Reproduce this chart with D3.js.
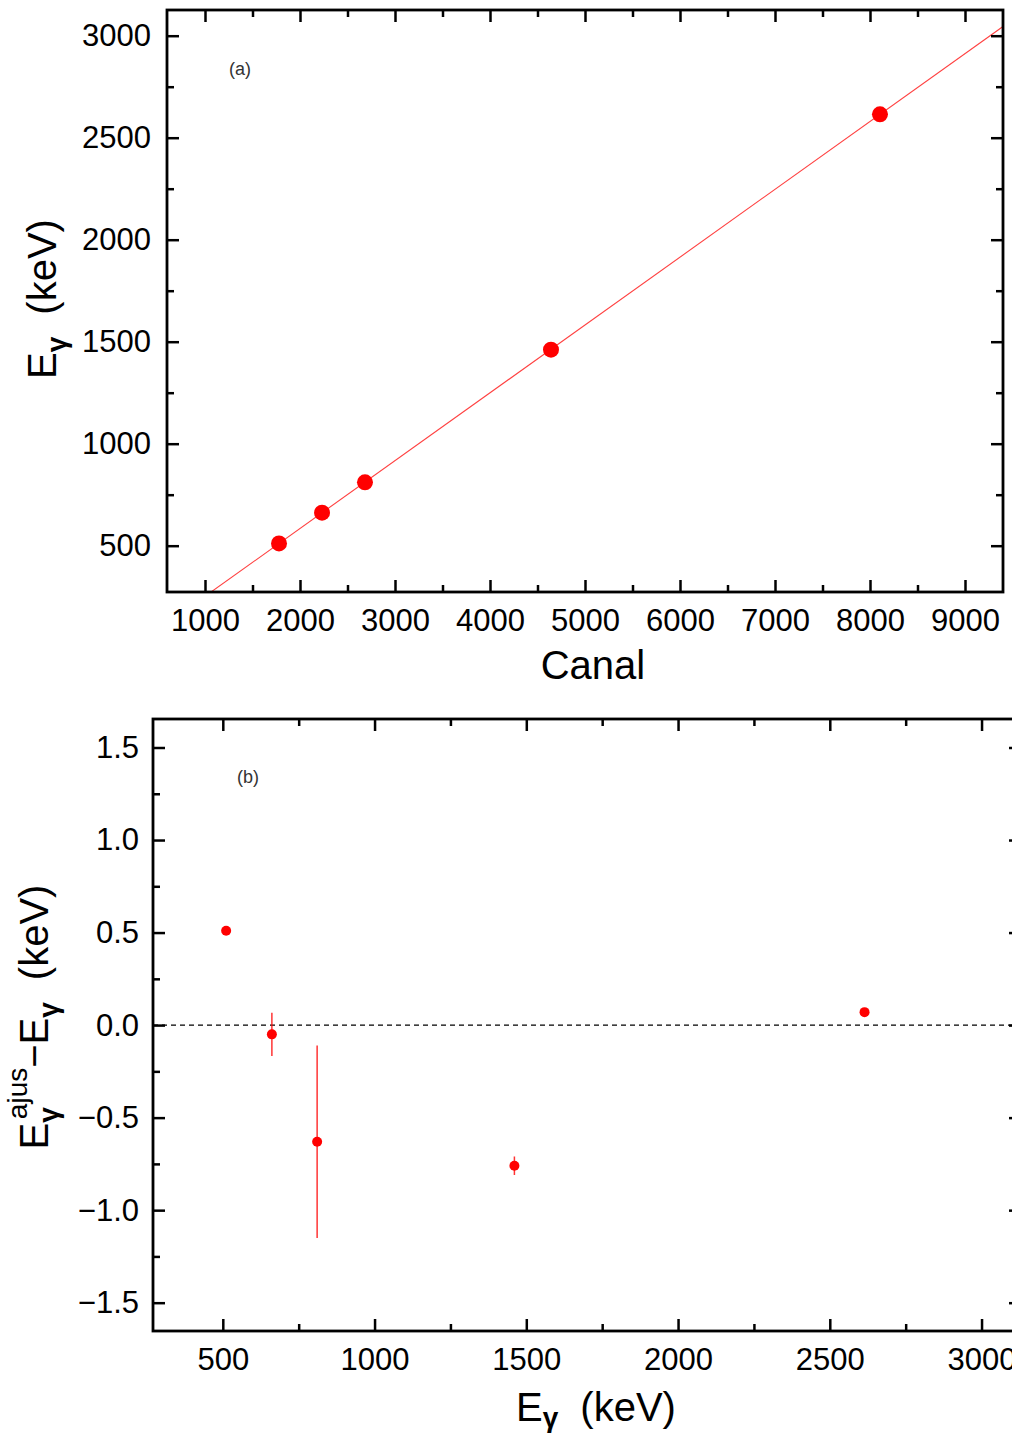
<!DOCTYPE html>
<html>
<head>
<meta charset="utf-8">
<script src="https://cdn.jsdelivr.net/npm/d3@7"></script>
<style>
  body { margin: 0; background: #fff; }
  text { font-family: "Liberation Sans", Arial, sans-serif; }
</style>
</head>
<body>
<div id="chart"></div>
<script>
// calibration points (canal vs energy) and residuals of the fit
const canal = [1779, 2232, 2684, 4642, 8105];
const energy = [511.0, 661.7, 810.8, 1460.8, 2614.5];
const residual = [0.51, -0.05, -0.63, -0.76, 0.07];
const residualErr = [0.02, 0.117, 0.52, 0.05, 0.02];
// linear fit  E = a*canal + b
const fitSlope = 0.3325;
const fitIntercept = -80.6;

const canalTicks = [1000, 2000, 3000, 4000, 5000, 6000, 7000, 8000, 9000];
const canalMinor = [1500, 2500, 3500, 4500, 5500, 6500, 7500, 8500];
const energyTicksA = [500, 1000, 1500, 2000, 2500, 3000];
const energyMinorA = [750, 1250, 1750, 2250, 2750];
const energyTicksB = [500, 1000, 1500, 2000, 2500, 3000];
const energyMinorB = [750, 1250, 1750, 2250, 2750];
const residTicks = [-1.5, -1.0, -0.5, 0.0, 0.5, 1.0, 1.5];
const residMinor = [-1.25, -0.75, -0.25, 0.25, 0.75, 1.25];

const width = 1012, height = 1437;
const red = "#ff0000";

const svg = d3.select("#chart").append("svg")
    .attr("width", width)
    .attr("height", height);

// draws mirrored inward ticks on all four sides
function frame(g, x, y, xt, xm, yt, ym, xfmt, yfmt, pad) {
    const [x0, x1] = x.range();
    const [y0, y1] = y.range();
    const big = 12, small = 7;

    const sides = [
        {ax: d3.axisBottom, sc: x, at: `translate(0,${y0})`, t: xt, m: xm, lab: true, fmt: xfmt, p: pad.x},
        {ax: d3.axisTop, sc: x, at: `translate(0,${y1})`, t: xt, m: xm, lab: false},
        {ax: d3.axisLeft, sc: y, at: `translate(${x0},0)`, t: yt, m: ym, lab: true, fmt: yfmt, p: pad.y},
        {ax: d3.axisRight, sc: y, at: `translate(${x1},0)`, t: yt, m: ym, lab: false}
    ];
    sides.forEach(s => {
        g.append("g").attr("transform", s.at)
            .call(s.ax(s.sc).tickValues(s.m).tickSize(-small).tickSizeOuter(0).tickFormat(""))
            .call(a => a.select(".domain").remove());
        const major = g.append("g").attr("transform", s.at)
            .call(s.ax(s.sc).tickValues(s.t).tickSize(-big).tickSizeOuter(0)
                .tickPadding(s.lab ? s.p : 0)
                .tickFormat(s.lab ? s.fmt : ""));
        major.select(".domain").remove();
        major.selectAll("text").attr("font-size", 31).attr("fill", "#000")
            .attr("font-family", "'Liberation Sans', Arial, sans-serif");
    });
    g.selectAll(".tick line").attr("stroke", "#000").attr("stroke-width", 2.5);
    g.append("rect")
        .attr("x", x0).attr("y", y1)
        .attr("width", x1 - x0).attr("height", y0 - y1)
        .attr("fill", "none").attr("stroke", "#000").attr("stroke-width", 2.8);
}

// adds "E_γ" style label pieces to a text element
function egamma(t, sub) {
    t.append("tspan").text("E");
    t.append("tspan").attr("font-size", 28).attr("font-weight", "bold").attr("dy", sub).text("γ");
}

// ---------- panel (a) ----------
const xA = d3.scaleLinear().domain([600, 9400]).range([167, 1003]);
const yA = d3.scaleLinear().domain([273, 3126]).range([592, 10]);

svg.append("clipPath").attr("id", "clipA")
    .append("rect").attr("x", 167).attr("y", 10).attr("width", 836).attr("height", 582);

const fitLine = d3.line()
    .x(d => xA(d))
    .y(d => yA(fitSlope * d + fitIntercept));

svg.append("path")
    .attr("clip-path", "url(#clipA)")
    .attr("d", fitLine(xA.domain()))
    .attr("stroke", red).attr("stroke-width", 1.1)
    .attr("stroke-opacity", 0.75).attr("fill", "none");

svg.append("g").selectAll("circle")
    .data(canal)
    .join("circle")
    .attr("cx", d => xA(d))
    .attr("cy", (d, i) => yA(energy[i]))
    .attr("r", 8)
    .attr("fill", red);

frame(svg.append("g"), xA, yA, canalTicks, canalMinor, energyTicksA, energyMinorA,
    d3.format("d"), d3.format("d"), {x: 17, y: 16});

svg.append("text").attr("x", 240).attr("y", 75)
    .attr("text-anchor", "middle").attr("font-size", 18).attr("fill", "#333")
    .text("(a)");

svg.append("text").attr("x", 593).attr("y", 679)
    .attr("text-anchor", "middle").attr("font-size", 40)
    .text("Canal");

const ylabA = svg.append("text")
    .attr("transform", "translate(56,299) rotate(-90)")
    .attr("text-anchor", "middle").attr("font-size", 40);
egamma(ylabA, 10);
ylabA.append("tspan").attr("dx", 22).attr("dy", -10).text("(keV)");

// ---------- panel (b) ----------
const xB = d3.scaleLinear().domain([270, 3130]).range([153, 1021]);
const yB = d3.scaleLinear().domain([-1.653, 1.654]).range([1331, 719]);

svg.append("line")
    .attr("x1", xB(270)).attr("x2", xB(3130))
    .attr("y1", yB(0)).attr("y2", yB(0))
    .attr("stroke", "#000").attr("stroke-width", 1.2)
    .attr("stroke-dasharray", "5,4");

svg.append("g").selectAll("line")
    .data(energy)
    .join("line")
    .attr("x1", d => xB(d)).attr("x2", d => xB(d))
    .attr("y1", (d, i) => yB(residual[i] + residualErr[i]))
    .attr("y2", (d, i) => yB(residual[i] - residualErr[i]))
    .attr("stroke", red).attr("stroke-width", 1.5).attr("stroke-opacity", 0.8);

svg.append("g").selectAll("circle")
    .data(energy)
    .join("circle")
    .attr("cx", d => xB(d))
    .attr("cy", (d, i) => yB(residual[i]))
    .attr("r", 5)
    .attr("fill", red);

frame(svg.append("g"), xB, yB, energyTicksB, energyMinorB, residTicks, residMinor,
    d3.format("d"), d => d3.format(".1f")(d).replace("-", "−"), {x: 17, y: 14});

svg.append("text").attr("x", 248).attr("y", 783)
    .attr("text-anchor", "middle").attr("font-size", 18).attr("fill", "#333")
    .text("(b)");

const xlabB = svg.append("text").attr("x", 596).attr("y", 1421)
    .attr("text-anchor", "middle").attr("font-size", 40);
egamma(xlabB, 6);
xlabB.append("tspan").attr("dx", 22).attr("dy", -6).text("(keV)");

const ylabB = svg.append("text")
    .attr("transform", "translate(48,1017) rotate(-90)")
    .attr("text-anchor", "middle").attr("font-size", 40);
egamma(ylabB, 10);
ylabB.append("tspan").attr("font-size", 28).attr("dx", -12).attr("dy", -31).text("ajus");
ylabB.append("tspan").attr("dy", 21).text("−E");
ylabB.append("tspan").attr("font-size", 28).attr("font-weight", "bold").attr("dy", 10).text("γ");
ylabB.append("tspan").attr("dx", 22).attr("dy", -10).text("(keV)");
</script>
</body>
</html>
